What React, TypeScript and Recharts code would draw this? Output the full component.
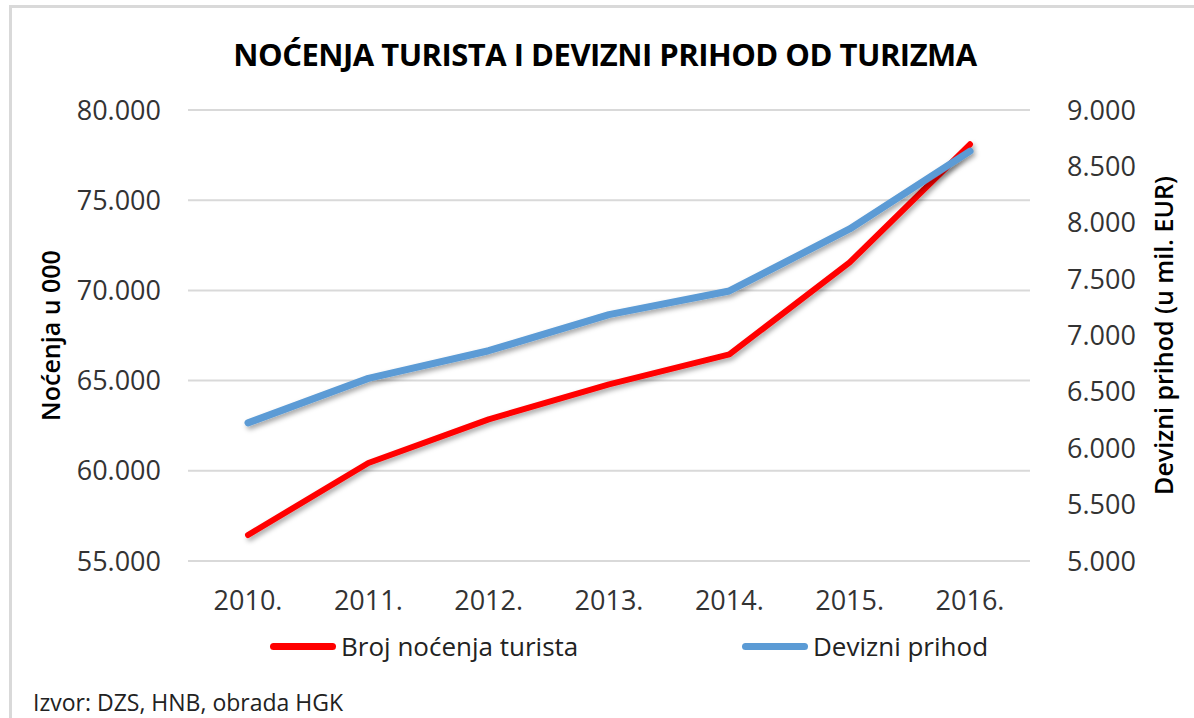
import React from 'react';
import { LineChart, Line, XAxis, YAxis, CartesianGrid, Legend } from 'recharts';

const years = ['2010.', '2011.', '2012.', '2013.', '2014.', '2015.', '2016.'];
const nocenja = [56440, 60430, 62850, 64790, 66450, 71550, 78100];
const prihod = [6225, 6620, 6865, 7185, 7395, 7945, 8635];
const leftTicks = [55000, 60000, 65000, 70000, 75000, 80000];
const rightTicks = [5000, 5500, 6000, 6500, 7000, 7500, 8000, 8500, 9000];

const seriesNames = { nocenja: 'Broj noćenja turista', prihod: 'Devizni prihod' };
const title = 'NOĆENJA TURISTA I DEVIZNI PRIHOD OD TURIZMA';
const leftTitle = 'Noćenja u 000';
const rightTitle = 'Devizni prihod (u mil. EUR)';
const source = 'Izvor: DZS, HNB, obrada HGK';

const data = years.map((y, i) => ({ year: y, nocenja: nocenja[i], prihod: prihod[i] }));

const FONT = '"Open Sans", "Noto Sans", sans-serif';
const fmt = (v: number) => String(v).replace(/\B(?=(\d{3})+(?!\d))/g, '.');

const LegendContent = (props: any) => {
  const payload = props.payload || [];
  return (
    <div style={{ display: 'flex', flexDirection: 'row', fontFamily: FONT, fontSize: 26, color: '#222' }}>
      {payload.map((p: any, i: number) => (
        <div key={i} style={{ display: 'flex', alignItems: 'center', width: i === 0 ? 472 : 'auto' }}>
          <div style={{ width: 66, height: 7, borderRadius: 4, background: p.color, marginRight: 5 }} />
          <span>{p.value}</span>
        </div>
      ))}
    </div>
  );
};

export default function App() {
  return (
    <div style={{ position: 'absolute', left: 0, top: 0, width: 1194, height: 718, overflow: 'hidden', background: '#fff' }}>
      <svg width="0" height="0" style={{ position: 'absolute' }}>
        <defs>
          <filter id="shadow" x="-10%" y="-10%" width="120%" height="130%">
            <feDropShadow dx="2" dy="3" stdDeviation="2.5" floodColor="#000" floodOpacity="0.35" />
          </filter>
        </defs>
      </svg>
      <div style={{ position: 'absolute', left: 9, top: 5, width: 1300, height: 800, borderLeft: '3px solid #d9d9d9', borderTop: '3px solid #d9d9d9' }} />
      <div style={{ position: 'absolute', left: 0, top: 33, width: 1210, textAlign: 'center', fontFamily: FONT, fontWeight: 700, fontSize: 31, letterSpacing: -0.5, color: '#000' }}>
        {title}
      </div>
      <div style={{ position: 'absolute', left: 33, top: 686, fontFamily: FONT, fontSize: 23, color: '#222' }}>{source}</div>
      <div style={{ position: 'absolute', left: 0, top: 0 }}>
        <LineChart width={1194} height={718} data={data} margin={{ top: 110, right: 64, left: 88, bottom: 117 }}>
          <CartesianGrid yAxisId="left" vertical={false} stroke="#d9d9d9" strokeWidth={2} />
          <XAxis
            dataKey="year"
            axisLine={false}
            tickLine={false}
            padding={{ left: 60, right: 60 }}
            height={40}
            tickMargin={24}
            tick={{ fontFamily: FONT, fontSize: 27, fill: '#333' }}
          />
          <YAxis
            yAxisId="left"
            orientation="left"
            domain={[55000, 80000]}
            ticks={leftTicks}
            tickFormatter={fmt}
            axisLine={false}
            tickLine={false}
            width={100}
            tickMargin={21}
            tick={{ fontFamily: FONT, fontSize: 27, fill: '#333' }}
            label={{
              value: leftTitle,
              angle: -90,
              position: 'insideLeft',
              offset: -37,
              style: { fontFamily: FONT, fontSize: 25, fill: '#000', textAnchor: 'middle', fontWeight: 600 },
            }}
          />
          <YAxis
            yAxisId="right"
            orientation="right"
            domain={[5000, 9000]}
            ticks={rightTicks}
            tickFormatter={fmt}
            axisLine={false}
            tickLine={false}
            width={100}
            tickMargin={31}
            tick={{ fontFamily: FONT, fontSize: 27, fill: '#333' }}
            label={{
              value: rightTitle,
              angle: -90,
              position: 'insideRight',
              offset: -34,
              style: { fontFamily: FONT, fontSize: 25, fill: '#000', textAnchor: 'middle', fontWeight: 600 },
            }}
          />
          <Legend
            verticalAlign="middle"
            layout="horizontal"
            content={<LegendContent />}
            wrapperStyle={{ position: 'absolute', left: 270, top: 628, width: 800 }}
          />
          <Line
            yAxisId="left"
            type="linear"
            dataKey="nocenja"
            name={seriesNames.nocenja}
            stroke="#ff0000"
            strokeWidth={6}
            dot={false}
            activeDot={false}
            strokeLinecap="round"
            strokeLinejoin="round"
            filter="url(#shadow)"
            isAnimationActive={false}
          />
          <Line
            yAxisId="right"
            type="linear"
            dataKey="prihod"
            name={seriesNames.prihod}
            stroke="#5b9bd5"
            strokeWidth={7}
            dot={false}
            activeDot={false}
            strokeLinecap="round"
            strokeLinejoin="round"
            filter="url(#shadow)"
            isAnimationActive={false}
          />
        </LineChart>
      </div>
    </div>
  );
}
